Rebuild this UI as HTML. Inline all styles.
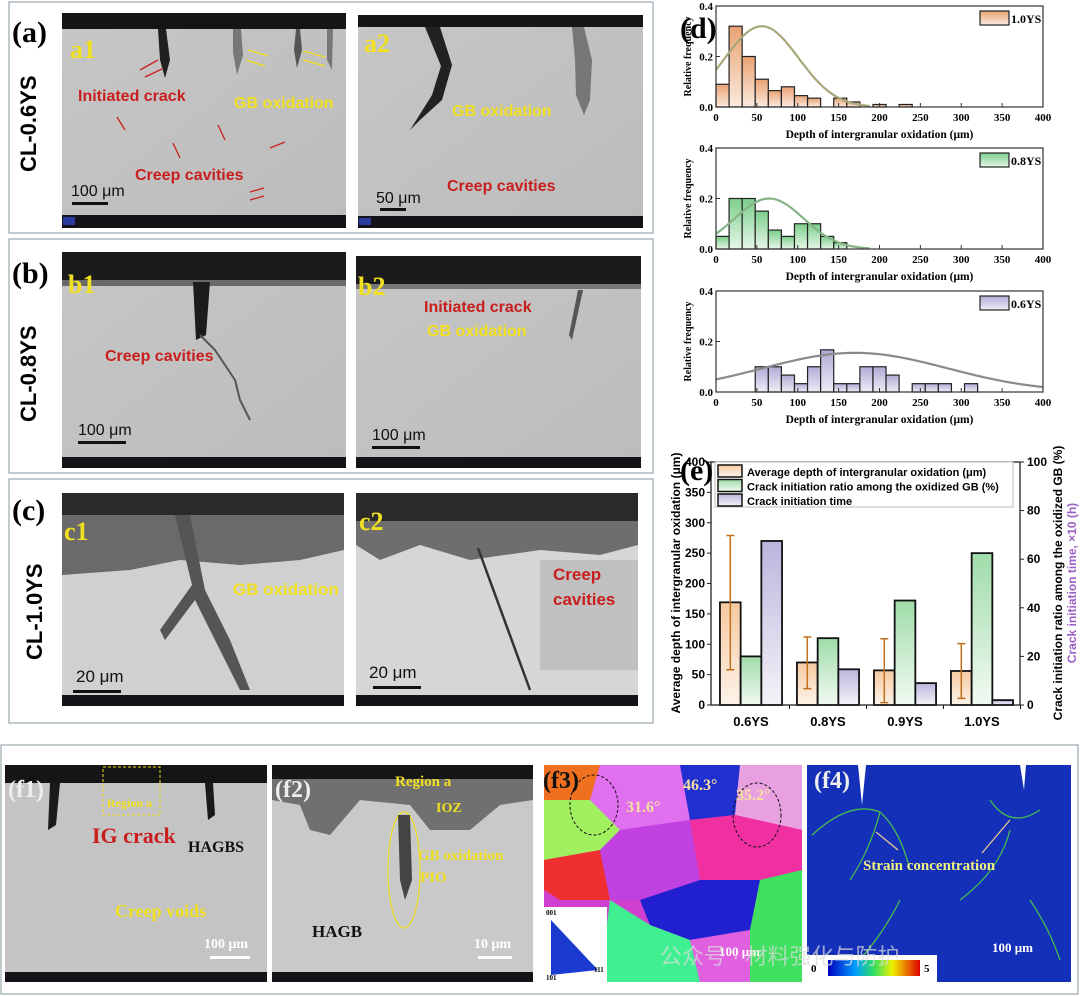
<!DOCTYPE html>
<html><head><meta charset="utf-8"><style>
html,body{margin:0;padding:0;background:#fff;width:1080px;height:996px;overflow:hidden}
svg{display:block}
text{font-family:"Liberation Sans",Arial,sans-serif}
.serif{font-family:"Liberation Serif","Times New Roman",serif;font-weight:bold}
</style></head><body>
<svg id="fig" width="1080" height="996" viewBox="0 0 1080 996" xmlns="http://www.w3.org/2000/svg">
<defs>
<linearGradient id="gOr" x1="0" y1="0" x2="0" y2="1"><stop offset="0" stop-color="#e9a272"/><stop offset="1" stop-color="#fbeadf"/></linearGradient>
<linearGradient id="gGr" x1="0" y1="0" x2="0" y2="1"><stop offset="0" stop-color="#7ccf8c"/><stop offset="1" stop-color="#e6f6e8"/></linearGradient>
<linearGradient id="gPu" x1="0" y1="0" x2="0" y2="1"><stop offset="0" stop-color="#b3aad6"/><stop offset="1" stop-color="#eeecf6"/></linearGradient>
<linearGradient id="eOr" x1="0" y1="0" x2="0" y2="1"><stop offset="0" stop-color="#f6c9a0"/><stop offset="1" stop-color="#fdf3ea"/></linearGradient>
<linearGradient id="eGr" x1="0" y1="0" x2="0" y2="1"><stop offset="0" stop-color="#9fdca9"/><stop offset="1" stop-color="#f2faf2"/></linearGradient>
<linearGradient id="ePu" x1="0" y1="0" x2="0" y2="1"><stop offset="0" stop-color="#bdb4dd"/><stop offset="1" stop-color="#f4f3f8"/></linearGradient>
<linearGradient id="cbar" x1="0" y1="0" x2="1" y2="0"><stop offset="0" stop-color="#0000c0"/><stop offset=".3" stop-color="#00a0ff"/><stop offset=".5" stop-color="#30e060"/><stop offset=".7" stop-color="#f0f000"/><stop offset="1" stop-color="#e00000"/></linearGradient>
<linearGradient id="semG" x1="0" y1="0" x2="1" y2="1"><stop offset="0" stop-color="#c6c6c6"/><stop offset="1" stop-color="#bcbcbc"/></linearGradient>
</defs>

<!-- ===== Panel (a) ===== -->
<g>
<rect x="9" y="2" width="644" height="231" fill="#fff" stroke="#9aa8b0" stroke-width="1.2"/>
<text x="12" y="42" class="serif" font-size="30">(a)</text>
<text transform="translate(36,172) rotate(-90)" font-size="22" font-weight="bold">CL-0.6YS</text>
<g>
<rect x="62" y="13" width="284" height="215" fill="url(#semG)"/>
<rect x="62" y="13" width="284" height="16" fill="#151515"/>
<path d="M158 29 L166 29 L170 60 L165 78 L160 60 Z" fill="#202020"/>
<path d="M233 29 L241 29 L243 55 L237 75 L233 52 Z" fill="#777"/>
<path d="M296 29 L300 29 L302 50 L297 68 L294 50 Z" fill="#555"/>
<path d="M327 29 L333 29 L332 70 L327 60 Z" fill="#777"/>
<text x="70" y="58" class="serif" font-size="26" fill="#f0e020">a1</text>
<text x="78" y="101" font-size="16" font-weight="bold" fill="#c81e1e">Initiated crack</text>
<text x="234" y="108" font-size="16" font-weight="bold" fill="#f0e020">GB oxidation</text>
<text x="135" y="180" font-size="16" font-weight="bold" fill="#c81e1e">Creep cavities</text>
<text x="71" y="196" font-size="16" fill="#111">100 μm</text>
<rect x="72" y="202" width="36" height="3" fill="#111"/>
<rect x="62" y="215" width="284" height="13" fill="#141418"/><rect x="63" y="217" width="12" height="8" fill="#2a3aa0"/>
<g stroke="#c81e1e" stroke-width="1.3"><line x1="140" y1="70" x2="158" y2="60"/><line x1="145" y1="77" x2="162" y2="69"/><line x1="125" y1="130" x2="117" y2="117"/><line x1="180" y1="158" x2="173" y2="143"/><line x1="225" y1="140" x2="218" y2="125"/><line x1="285" y1="142" x2="270" y2="148"/><line x1="264" y1="188" x2="250" y2="192"/><line x1="264" y1="196" x2="250" y2="200"/></g>
<g stroke="#f0e020" stroke-width="1.3"><line x1="268" y1="56" x2="248" y2="50"/><line x1="265" y1="66" x2="246" y2="60"/><line x1="325" y1="57" x2="303" y2="51"/><line x1="325" y1="66" x2="303" y2="60"/></g>
</g>
<g>
<rect x="358" y="15" width="285" height="213" fill="url(#semG)"/>
<rect x="358" y="15" width="285" height="12" fill="#151515"/>
<path d="M425 27 L440 27 L452 65 L442 100 L420 120 L410 130 L432 95 L441 66 Z" fill="#222"/>
<path d="M572 27 L584 27 L592 60 L590 100 L584 115 L576 95 L575 60 Z" fill="#777"/>
<text x="364" y="52" class="serif" font-size="26" fill="#f0e020">a2</text>
<text x="452" y="116" font-size="16" font-weight="bold" fill="#f0e020">GB oxidation</text>
<text x="447" y="191" font-size="16" font-weight="bold" fill="#c81e1e">Creep cavities</text>
<text x="376" y="203" font-size="16" fill="#111">50 μm</text>
<rect x="380" y="208" width="26" height="3" fill="#111"/>
<rect x="358" y="216" width="285" height="12" fill="#141418"/><rect x="359" y="218" width="12" height="7" fill="#2a3aa0"/>
</g>
</g>

<!-- ===== Panel (b) ===== -->
<g>
<rect x="9" y="239" width="644" height="234" fill="#fff" stroke="#9aa8b0" stroke-width="1.2"/>
<text x="12" y="283" class="serif" font-size="30">(b)</text>
<text transform="translate(36,422) rotate(-90)" font-size="22" font-weight="bold">CL-0.8YS</text>
<g>
<rect x="62" y="252" width="284" height="216" fill="url(#semG)"/>
<rect x="62" y="252" width="284" height="30" fill="#1a1a1a"/>
<rect x="62" y="280" width="284" height="6" fill="#6a6a6a"/>
<path d="M193 282 L210 282 L206 335 L196 340 Z" fill="#1c1c1c"/>
<path d="M200 335 L215 350 L235 380 L240 400 L250 420" fill="none" stroke="#555" stroke-width="2"/>
<text x="68" y="293" class="serif" font-size="26" fill="#f0e020">b1</text>
<text x="105" y="361" font-size="16" font-weight="bold" fill="#c81e1e">Creep cavities</text>
<text x="78" y="435" font-size="16" fill="#111">100 μm</text>
<rect x="78" y="441" width="48" height="3" fill="#111"/>
<rect x="62" y="457" width="284" height="11" fill="#141418"/>
</g>
<g>
<rect x="356" y="256" width="285" height="212" fill="url(#semG)"/>
<rect x="356" y="256" width="285" height="30" fill="#1a1a1a"/>
<rect x="356" y="284" width="285" height="5" fill="#777"/>
<path d="M578 290 L583 290 L572 340 L569 335 Z" fill="#555"/>
<text x="358" y="295" class="serif" font-size="26" fill="#f0e020">b2</text>
<text x="424" y="312" font-size="16" font-weight="bold" fill="#c81e1e">Initiated crack</text>
<text x="427" y="336" font-size="16" font-weight="bold" fill="#f0e020">GB oxidation</text>
<text x="372" y="440" font-size="16" fill="#111">100 μm</text>
<rect x="372" y="446" width="48" height="3" fill="#111"/>
<rect x="356" y="457" width="285" height="11" fill="#141418"/>
</g>
</g>

<!-- ===== Panel (c) ===== -->
<g>
<rect x="9" y="479" width="644" height="244" fill="#fff" stroke="#9aa8b0" stroke-width="1.2"/>
<text x="12" y="520" class="serif" font-size="30">(c)</text>
<text transform="translate(42,660) rotate(-90)" font-size="22" font-weight="bold">CL-1.0YS</text>
<g>
<rect x="62" y="493" width="282" height="213" fill="#d0d0d0"/>
<rect x="62" y="493" width="282" height="22" fill="#2a2a2a"/>
<path d="M62 515 L344 515 L344 550 L300 560 L240 565 L180 560 L130 570 L62 575 Z" fill="#6a6a6a"/>
<path d="M175 515 L190 515 L205 590 L230 640 L250 690 L240 690 L215 640 L195 600 L165 640 L160 630 L192 585 Z" fill="#555"/>
<text x="64" y="540" class="serif" font-size="26" fill="#f0e020">c1</text>
<text x="233" y="595" font-size="17" font-weight="bold" fill="#f0e020">GB oxidation</text>
<text x="76" y="682" font-size="17" fill="#111">20 μm</text>
<rect x="73" y="690" width="48" height="3" fill="#111"/>
<rect x="62" y="695" width="282" height="11" fill="#141418"/>
</g>
<g>
<rect x="356" y="493" width="282" height="213" fill="#d6d6d6"/>
<rect x="356" y="493" width="282" height="28" fill="#2a2a2a"/>
<path d="M356 521 L638 521 L638 545 L600 555 L540 550 L470 560 L420 545 L380 560 L356 545 Z" fill="#6e6e6e"/>
<rect x="540" y="560" width="98" height="110" fill="#c0c0c0"/>
<line x1="478" y1="548" x2="530" y2="690" stroke="#333" stroke-width="2.5"/>
<text x="359" y="530" class="serif" font-size="26" fill="#f0e020">c2</text>
<text x="553" y="580" font-size="17" font-weight="bold" fill="#c81e1e">Creep</text>
<text x="553" y="605" font-size="17" font-weight="bold" fill="#c81e1e">cavities</text>
<text x="369" y="678" font-size="17" fill="#111">20 μm</text>
<rect x="373" y="686" width="48" height="3" fill="#111"/>
<rect x="356" y="695" width="282" height="11" fill="#141418"/>
</g>
</g>

<!-- ===== Panel (f) ===== -->
<g>
<rect x="1" y="745" width="1077" height="249" fill="#fff" stroke="#9aa8b0" stroke-width="1.2"/>
<g>
<rect x="5" y="765" width="262" height="217" fill="#c4c4c4"/>
<rect x="5" y="765" width="262" height="18" fill="#151515"/>
<path d="M50 783 L60 783 L56 825 L48 830 Z" fill="#1a1a1a"/><path d="M205 783 L213 783 L215 815 L208 820 Z" fill="#1a1a1a"/>
<rect x="103" y="767" width="57" height="48" fill="none" stroke="#f0e020" stroke-dasharray="3 2"/>
<text x="8" y="797" class="serif" font-size="24" fill="#eee">(f1)</text>
<text x="107" y="807" class="serif" font-size="12" fill="#f0e020">Region a</text>
<text x="92" y="843" class="serif" font-size="22" fill="#c81e1e">IG crack</text>
<text x="188" y="852" class="serif" font-size="16" fill="#111">HAGBS</text>
<text x="115" y="917" class="serif" font-size="18" fill="#f0e020">Creep voids</text>
<text x="204" y="948" class="serif" font-size="14" fill="#fff">100 μm</text>
<rect x="210" y="956" width="40" height="3" fill="#fff"/>
<rect x="5" y="972" width="262" height="10" fill="#141418"/>
</g>
<g>
<rect x="272" y="765" width="261" height="217" fill="#c9c9c9"/>
<rect x="272" y="765" width="261" height="14" fill="#151515"/>
<path d="M272 779 L533 779 L533 800 L500 805 L470 830 L430 830 L410 805 L360 800 L330 835 L310 830 L300 805 L272 800 Z" fill="#707070"/>
<ellipse cx="404" cy="870" rx="16" ry="58" fill="none" stroke="#f0e020" stroke-width="1.2"/>
<path d="M398 815 L410 815 L412 880 L405 900 L400 880 Z" fill="#444"/>
<text x="275" y="797" class="serif" font-size="24" fill="#eee">(f2)</text>
<text x="395" y="786" class="serif" font-size="15" fill="#f0e020">Region a</text>
<text x="436" y="812" class="serif" font-size="14" fill="#f0e020">IOZ</text>
<text x="418" y="860" class="serif" font-size="15" fill="#f0e020">GB oxidation</text>
<text x="420" y="882" class="serif" font-size="15" fill="#f0e020">PIO</text>
<text x="312" y="937" class="serif" font-size="17" fill="#111">HAGB</text>
<text x="474" y="948" class="serif" font-size="14" fill="#fff">10 μm</text>
<rect x="478" y="956" width="34" height="3" fill="#fff"/>
<rect x="272" y="972" width="261" height="10" fill="#141418"/>
</g>
<g>
<rect x="544" y="765" width="258" height="217" fill="#d040d0"/>
<polygon points="544,765 600,765 590,800 560,810 544,800" fill="#f07020"/>
<polygon points="600,765 680,765 690,820 620,830 590,800" fill="#e070f0"/>
<polygon points="680,765 740,765 735,815 690,820" fill="#2030d0"/>
<polygon points="740,765 802,765 802,830 735,815" fill="#e8a0e0"/>
<polygon points="544,800 590,800 620,830 600,850 544,860" fill="#a0f060"/>
<polygon points="544,860 600,850 610,900 560,900 544,890" fill="#f03030"/>
<polygon points="620,830 690,820 700,880 640,900 610,900 600,850" fill="#c040e0"/>
<polygon points="690,820 735,815 802,830 802,870 760,880 700,880" fill="#f030a0"/>
<polygon points="640,900 700,880 760,880 750,930 690,940 650,925" fill="#2020d0"/>
<polygon points="760,880 802,870 802,982 750,982 750,930" fill="#40e060"/>
<polygon points="610,900 650,925 690,940 700,982 600,982" fill="#40f090"/>
<polygon points="690,940 750,930 750,982 700,982" fill="#e060e0"/>
<rect x="544" y="907" width="63" height="75" fill="#fff"/>
<polygon points="551,920 598,970 551,975" fill="#1a3ad0"/>
<text x="546" y="915" class="serif" font-size="7" font-weight="normal">001</text>
<text x="546" y="980" class="serif" font-size="7" font-weight="normal">101</text>
<text x="594" y="972" class="serif" font-size="7" font-weight="normal">111</text>
<ellipse cx="594" cy="805" rx="24" ry="30" fill="none" stroke="#111" stroke-dasharray="3 2"/>
<ellipse cx="757" cy="815" rx="24" ry="32" fill="none" stroke="#111" stroke-dasharray="3 2"/>
<text x="543" y="788" class="serif" font-size="24" fill="#111">(f3)</text>
<text x="683" y="790" class="serif" font-size="16" fill="#f5e0a0">46.3°</text>
<text x="736" y="800" class="serif" font-size="16" fill="#f5e0a0">35.2°</text>
<text x="626" y="812" class="serif" font-size="16" fill="#f5e0a0">31.6°</text>
<text x="719" y="956" class="serif" font-size="13" fill="#fff">100 μm</text>
</g>
<g>
<rect x="807" y="765" width="264" height="217" fill="#1530b8"/>
<g stroke="#50d040" stroke-width="1.3" fill="none" opacity=".85">
<path d="M812 835 Q850 800 880 812 Q900 830 910 870 M880 812 Q870 850 850 880 M990 800 Q1010 830 1040 810 M1010 830 Q1000 870 960 900 M900 900 Q880 940 850 970 M1030 900 Q1050 930 1060 960"/>
</g>
<path d="M858 765 L866 765 L862 805 Z M1020 765 L1026 765 L1024 790 Z" fill="#fff"/>
<text x="814" y="788" class="serif" font-size="24" fill="#eee">(f4)</text>
<text x="863" y="870" class="serif" font-size="15" fill="#f0f080">Strain concentration</text>
<line x1="898" y1="850" x2="876" y2="832" stroke="#e8c890" stroke-width="1.3"/>
<line x1="982" y1="853" x2="1010" y2="820" stroke="#e8c890" stroke-width="1.3"/>
<rect x="807" y="955" width="130" height="27" fill="#fff"/>
<rect x="828" y="960" width="92" height="16" fill="url(#cbar)"/>
<text x="811" y="972" class="serif" font-size="11">0</text>
<text x="924" y="972" class="serif" font-size="11">5</text>
<text x="992" y="952" class="serif" font-size="13" fill="#fff">100 μm</text>
</g>
<text x="660" y="964" font-size="22" fill="#ddd" opacity=".7" font-family="'Liberation Sans','Noto Sans CJK SC',sans-serif">公众号 · 材料强化与防护</text>
</g>

<!-- ===== Charts ===== -->
<text x="680" y="38" class="serif" font-size="30">(d)</text>
<g id="chartD"></g>
<g id="chartE"></g>
</svg>

<script>
// ---- chart (d) data ----
const binWidth = 16;
const binsA = [0.09,0.32,0.20,0.11,0.065,0.08,0.045,0.035,0,0.035,0.02,0,0.01,0,0.01];   // 1.0YS from 0
const binsB = [0.05,0.20,0.20,0.15,0.075,0.05,0.10,0.10,0.05,0.025];                     // 0.8YS from 0
const binsC = [0.10,0.10,0.067,0.033,0.10,0.167,0.033,0.033,0.10,0.10,0.067,0,0.033,0.033,0.033,0,0.033]; // 0.6YS from 48
const binStarts = [0,0,48];
const fitPeak = [0.32,0.20,0.155];
const fitMean = [56,65,170];
const fitSigma = [45,42,113];
const histLabels = ["1.0YS","0.8YS","0.6YS"];
const xTicks = [0,50,100,150,200,250,300,350,400];
const yTicks = [0.0,0.2,0.4];

// ---- chart (e) data ----
const categories = ["0.6YS","0.8YS","0.9YS","1.0YS"];
const avgDepth = [169,70,57,56];
const depthErrHi = [279,112,109,101];
const depthErrLo = [58,27,4,11];
const crackRatio = [20,27.5,43,62.5];
const crackTime = [67.5,14.7,9,2];
const leftTicks = [0,50,100,150,200,250,300,350,400];
const rightTicks = [0,20,40,60,80,100];

const NS="http://www.w3.org/2000/svg";
function mk(tag,attrs,parent){const e=document.createElementNS(NS,tag);for(const k in attrs)e.setAttribute(k,attrs[k]);parent.appendChild(e);return e;}

// ---- draw chart d ----
(function(){
  const g=document.getElementById('chartD');
  const X0=716,X1=1043;
  const tops=[6,148,291], bots=[107,249,392];
  const fills=['url(#gOr)','url(#gGr)','url(#gPu)'];
  const curveCol=['#a9a77c','#86b486','#8a8a8a'];
  const allBins=[binsA,binsB,binsC];
  for(let p=0;p<3;p++){
    const yT=tops[p],yB=bots[p];
    const sx=v=>X0+(v/400)*(X1-X0);
    const sy=v=>yB-(v/0.4)*(yB-yT);
    const bins=allBins[p];
    bins.forEach((v,i)=>{
      if(v<=0)return;
      const a=binStarts[p]+i*binWidth;
      const r=mk('rect',{x:sx(a),y:sy(v),width:sx(a+binWidth)-sx(a),height:yB-sy(v),fill:fills[p],stroke:'#222','stroke-width':1.2},g);
      
      
    });
    let d='';
    for(let x=0;x<=400;x+=4){
      const y=fitPeak[p]*Math.exp(-Math.pow(x-fitMean[p],2)/(2*fitSigma[p]*fitSigma[p]));
      if(p<2 && x>fitMean[p]+3*fitSigma[p])break;
      d+=(d?'L':'M')+sx(x).toFixed(1)+' '+sy(y).toFixed(1);
    }
    const c=mk('path',{d:d,fill:'none',stroke:curveCol[p],'stroke-width':2.2},g);
    
    
    const fr=mk('rect',{x:X0,y:yT,width:X1-X0,height:yB-yT,fill:'none',stroke:'#333','stroke-width':1.2},g);
    
    
    xTicks.forEach(t=>{
      mk('line',{x1:sx(t),x2:sx(t),y1:yB,y2:yB-4,stroke:'#333'},g);
      const tl=mk('text',{x:sx(t),y:yB+14,'text-anchor':'middle','font-size':11,class:'serif'},g);
      tl.textContent=t;
      
      
    });
    yTicks.forEach(t=>{
      mk('line',{x1:X0,x2:X0+4,y1:sy(t),y2:sy(t),stroke:'#333'},g);
      const tl=mk('text',{x:X0-3,y:sy(t)+4,'text-anchor':'end','font-size':11,class:'serif'},g);
      tl.textContent=t.toFixed(1);
      
      
    });
    const xt=mk('text',{x:(X0+X1)/2,y:yB+31,'text-anchor':'middle','font-size':11.5,class:'serif'},g);
    xt.textContent='Depth of intergranular oxidation (μm)';
    
    
    const yt=mk('text',{transform:'translate(691,'+((yT+yB)/2)+') rotate(-90)','text-anchor':'middle','font-size':10,class:'serif'},g);
    yt.textContent='Relative frequency';
    
    
    const lb=mk('rect',{x:980,y:yT+5,width:29,height:14,fill:fills[p],stroke:'#222','stroke-width':1.2},g);
    
    
    const lt=mk('text',{x:1011,y:yT+17,'font-size':12,class:'serif'},g);
    lt.textContent=histLabels[p];
    
    
  }
})();

// ---- draw chart e ----
(function(){
  const g=document.getElementById('chartE');
  const X0=711,X1=1020,Y0=705,Y1=462;
  const syL=v=>Y0-(v/400)*(Y0-Y1);
  const syR=v=>Y0-(v/100)*(Y0-Y1);
  const cx=i=>751+i*77;
  const bw=20.7;
  categories.forEach((c,i)=>{
    const b1=mk('rect',{x:cx(i)-1.5*bw,y:syL(avgDepth[i]),width:bw,height:Y0-syL(avgDepth[i]),fill:'url(#eOr)',stroke:'#111','stroke-width':1.8},g);
    
    
    const b2=mk('rect',{x:cx(i)-0.5*bw,y:syR(crackRatio[i]),width:bw,height:Y0-syR(crackRatio[i]),fill:'url(#eGr)',stroke:'#111','stroke-width':1.8},g);
    
    
    const b3=mk('rect',{x:cx(i)+0.5*bw,y:syR(crackTime[i]),width:bw,height:Y0-syR(crackTime[i]),fill:'url(#ePu)',stroke:'#111','stroke-width':1.8},g);
    
    
    const ex=cx(i)-bw;
    const eb=mk('path',{d:`M${ex} ${syL(depthErrLo[i])}V${syL(depthErrHi[i])}M${ex-4} ${syL(depthErrHi[i])}h8M${ex-4} ${syL(depthErrLo[i])}h8`,stroke:'#c0701c','stroke-width':1.5,fill:'none'},g);
    
    
    const tl=mk('text',{x:cx(i),y:Y0+21,'text-anchor':'middle','font-size':13,'font-weight':'bold'},g);
    tl.textContent=c;
    
    
    mk('line',{x1:cx(i)+38.5,x2:cx(i)+38.5,y1:Y0,y2:Y0+4,stroke:'#111'},g);
  });
  mk('rect',{x:X0,y:Y1,width:X1-X0,height:Y0-Y1,fill:'none',stroke:'#222','stroke-width':1.3},g);
  leftTicks.forEach(t=>{
    mk('line',{x1:X0,x2:X0-4,y1:syL(t),y2:syL(t),stroke:'#222'},g);
    const tl=mk('text',{x:X0-6,y:syL(t)+4,'text-anchor':'end','font-size':12,'font-weight':'bold'},g);
    tl.textContent=t;
    
    
  });
  rightTicks.forEach(t=>{
    mk('line',{x1:X1,x2:X1+4,y1:syR(t),y2:syR(t),stroke:'#222'},g);
    const tl=mk('text',{x:X1+7,y:syR(t)+4,'font-size':12,'font-weight':'bold'},g);
    tl.textContent=t;
    
    
  });
  const lbox=mk('rect',{x:715,y:462,width:298,height:45,fill:'#fff',stroke:'#bbb'},g);
  
  
  const leg=[['url(#eOr)','Average depth of intergranular oxidation (μm)'],['url(#eGr)','Crack initiation ratio among the oxidized GB (%)'],['url(#ePu)','Crack initiation time']];
  leg.forEach((l,i)=>{
    const sw=mk('rect',{x:718,y:465+i*14.5,width:24,height:12,fill:l[0],stroke:'#111','stroke-width':1.5},g);
    
    
    const t=mk('text',{x:747,y:476+i*14.5,'font-size':11,'font-weight':'bold'},g);
    t.textContent=l[1];
    
    
  });
  const el=mk('text',{x:680,y:480,class:'serif','font-size':30},g);
  el.textContent='(e)';
  
  
  const yl=mk('text',{transform:'translate(680,583) rotate(-90)','text-anchor':'middle','font-size':12,'font-weight':'bold'},g);
  yl.textContent='Average depth of intergranular oxidation (μm)';
  
  
  const yr=mk('text',{transform:'translate(1062,583) rotate(-90)','text-anchor':'middle','font-size':12,'font-weight':'bold'},g);
  yr.textContent='Crack initiation ratio among the oxidized GB (%)';
  
  
  const yr2=mk('text',{transform:'translate(1076,583) rotate(-90)','text-anchor':'middle','font-size':12,'font-weight':'bold',fill:'#9b5fc8'},g);
  yr2.textContent='Crack initiation time, ×10 (h)';
  
  
})();
</script>
</body></html>
